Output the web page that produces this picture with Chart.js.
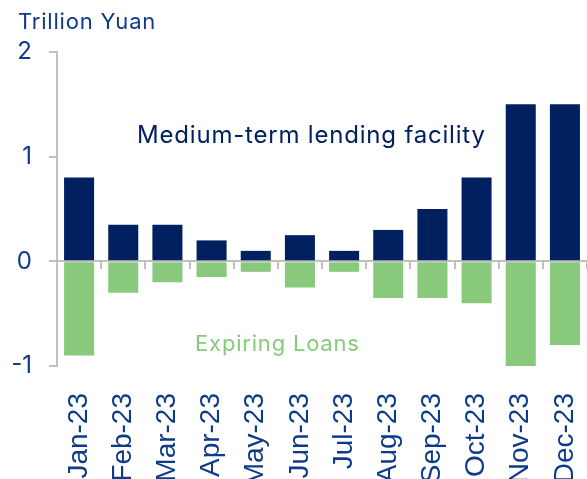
<!doctype html>
<html>
  <head>
    <script src="https://cdn.jsdelivr.net/npm/chart.js@4/dist/chart.umd.min.js"></script>
    <style>
      body { margin: 0; background: #fff; }
      #wrap { width: 587px; height: 479px; }
    </style>
  </head>
  <body>
    <div id="wrap"><canvas id="c1"></canvas></div>
    <script>
      // months and values (trillion yuan)
      let months = ["Jan-23","Feb-23","Mar-23","Apr-23","May-23","Jun-23","Jul-23","Aug-23","Sep-23","Oct-23","Nov-23","Dec-23"];
      let mlf = [0.8, 0.35, 0.35, 0.2, 0.1, 0.25, 0.1, 0.3, 0.5, 0.8, 1.5, 1.5];
      let expiring = [-0.9, -0.3, -0.2, -0.15, -0.1, -0.25, -0.1, -0.35, -0.35, -0.4, -1.0, -0.8];
      let yTicks = [-1, 0, 1, 2];

      let navy = "#002060";
      let green = "#88c97c";
      let textBlue = "#0d3a8a";
      let grey = "#c0c0c0";

      // unit title and series labels drawn inside the plot
      let labelPlugin = {
        id: "seriesLabels",
        afterDatasetsDraw(chart) {
          let ctx = chart.ctx, xs = chart.scales.x, ys = chart.scales.y;
          ctx.save();
          ctx.letterSpacing = "0.8px";
          ctx.font = "22px Inter";
          ctx.textAlign = "left";
          ctx.textBaseline = "alphabetic";
          ctx.fillStyle = textBlue;
          ctx.fillText("Trillion Yuan", 18, 29);
          ctx.font = "24px Inter";
          ctx.textAlign = "center";
          ctx.textBaseline = "middle";
          ctx.fillStyle = navy;
          ctx.fillText("Medium-term lending facility", xs.getPixelForValue(5.26), ys.getPixelForValue(1.2));
          ctx.font = "22px Inter";
          ctx.fillStyle = green;
          ctx.fillText("Expiring Loans", xs.getPixelForValue(4.49), ys.getPixelForValue(-0.79));
          ctx.restore();
        }
      };

      let chart1 = new Chart(document.getElementById("c1"), {
        type: "bar",
        data: {
          labels: months,
          datasets: [
            { label: "Medium-term lending facility", data: mlf, backgroundColor: navy },
            { label: "Expiring Loans", data: expiring, backgroundColor: green }
          ]
        },
        options: {
          responsive: true,
          maintainAspectRatio: false,
          animation: false,
          layout: { padding: { left: 0, right: 0, top: 52, bottom: 0 } },
          datasets: { bar: { categoryPercentage: 1, barPercentage: 0.68 } },
          plugins: {
            legend: { display: false },
            tooltip: { enabled: false }
          },
          scales: {
            x: {
              stacked: true,
              grid: { display: false },
              border: { display: false },
              afterFit(scale) { scale.paddingLeft = 0; scale.paddingRight = 0; scale.height = 113; },
              ticks: {
                minRotation: 90, maxRotation: 90, padding: 19,
                color: textBlue,
                font: { family: "Liberation Sans", size: 28 }
              }
            },
            x2: {
              type: "category",
              labels: months,
              position: { y: 0 },
              offset: true,
              grid: { offset: true, drawOnChartArea: false, tickLength: 7, color: grey, lineWidth: 2 },
              border: { display: true, color: grey, width: 2 },
              ticks: { display: false }
            },
            y: {
              stacked: true,
              min: -1, max: 2,
              afterBuildTicks(scale) { scale.ticks = yTicks.map(v => ({ value: v })); },
              afterFit(scale) { scale.width = 57; scale.paddingTop = 0; scale.paddingBottom = 0; },
              grid: { drawOnChartArea: false, tickLength: 8, color: grey, lineWidth: 2 },
              border: { display: true, color: grey, width: 2 },
              ticks: {
                color: textBlue, padding: 17,
                font: { family: "Inter", size: 24 }
              }
            }
          }
        },
        plugins: [labelPlugin]
      });
    </script>
  </body>
</html>
